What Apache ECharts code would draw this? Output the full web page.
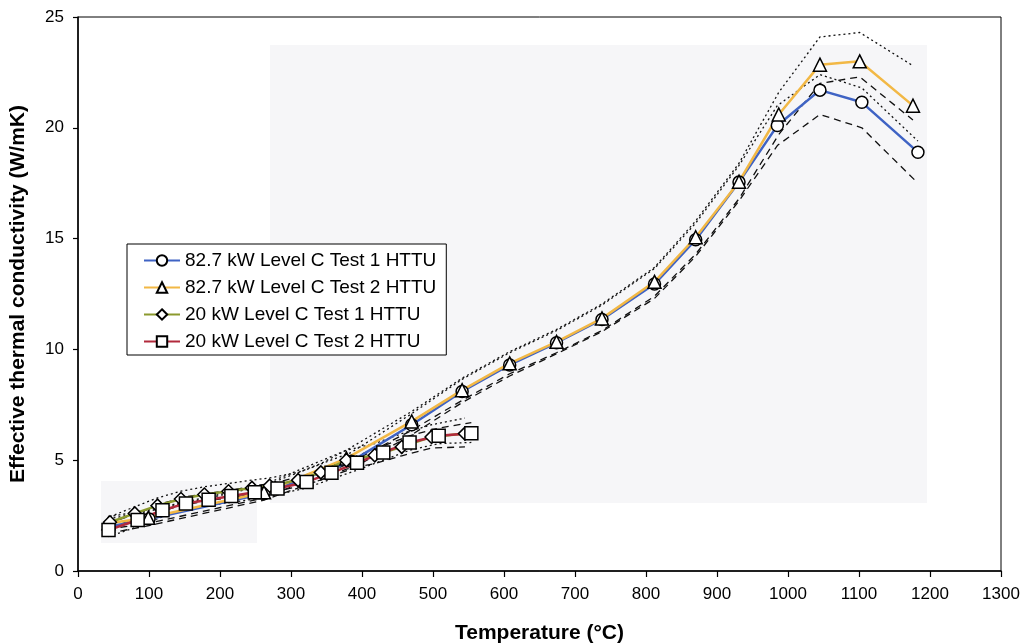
<!DOCTYPE html>
<html>
<head>
<meta charset="utf-8">
<script src="https://cdn.jsdelivr.net/npm/echarts@6/dist/echarts.min.js"></script>
<style>
	html,body{margin:0;padding:0;background:#fff;}
	#charts{width:1027px;height:644px;}
</style>
</head>
<body>
<div id="charts"></div>
<script>
//图例名称
var names = ['82.7 kW Level C Test 1 HTTU','82.7 kW Level C Test 2 HTTU','20 kW Level C Test 1 HTTU','20 kW Level C Test 2 HTTU'];

//82.7 kW Test 1 (圆)
var t1x = [43,100,262,385,470,541,608,674,738,812,870,931,985,1045,1104,1183];
var t1y = [2.0,2.35,3.5,4.95,6.6,8.1,9.3,10.3,11.35,12.95,14.95,17.55,20.1,21.7,21.15,18.9];
var t1up = [2.35,2.7,3.85,5.35,7.1,8.65,9.85,10.85,12.0,13.65,15.7,18.3,21.0,22.4,21.8,19.4];
var t1lo = [1.7,2.05,3.2,4.6,6.15,7.6,8.8,9.8,10.8,12.3,14.2,16.7,19.2,20.6,20.0,17.5];

//82.7 kW Test 2 (三角)
var t2x = [43,99,262,378,470,541,608,674,738,812,870,931,987,1045,1101,1176];
var t2y = [2.15,2.4,3.55,5.08,6.75,8.16,9.37,10.34,11.4,13.05,15.06,17.57,20.6,22.85,23.0,21.0];
var t2up = [2.45,2.75,3.9,5.45,7.2,8.7,9.9,10.9,12.05,13.7,15.8,18.4,21.6,24.1,24.3,22.8];
var t2lo = [1.9,2.15,3.3,4.8,6.35,7.7,8.9,9.85,10.85,12.4,14.3,16.8,19.7,22.0,22.3,20.35];

//20 kW Test 1 (菱形)
var s1x = [45,80,112,145,178,212,245,270,310,342,378,418,456,498,545];
var s1y = [2.2,2.6,2.95,3.25,3.45,3.6,3.75,3.85,4.1,4.45,5.0,5.22,5.6,6.05,6.2];
var s1up = [2.45,2.9,3.3,3.6,3.8,3.95,4.1,4.2,4.45,4.85,5.45,5.75,6.2,6.6,6.9];
var s1lo = [1.95,2.35,2.65,2.95,3.15,3.3,3.45,3.55,3.8,4.1,4.6,4.85,5.2,5.55,5.6];

//20 kW Test 2 (方块)
var s2x = [43,84,119,152,184,216,249,281,322,357,393,430,467,508,554];
var s2y = [1.85,2.3,2.74,3.05,3.22,3.38,3.55,3.72,4.02,4.43,4.88,5.35,5.8,6.1,6.22];
var s2up = [2.15,2.6,3.05,3.35,3.5,3.65,3.85,4.0,4.35,4.75,5.2,5.65,6.1,6.45,6.7];
var s2lo = [1.55,2.0,2.45,2.75,2.95,3.1,3.25,3.45,3.75,4.15,4.55,5.0,5.45,5.75,5.8];

var xTicks = [0,100,200,300,400,500,600,700,800,900,1000,1100,1200,1300];
var yTicks = [0,5,10,15,20,25];

var font = '"Liberation Sans", Arial, sans-serif';

//x,y数组合并为点
function pts(xs, ys){
	var arr = [];
	for(var i=0;i<xs.length;i++){
		arr.push([xs[i], ys[i]]);
	}
	return arr;
}

//主数据线
function mainSeries(name, xs, ys, color, symbol, size){
	return {
		name: name,
		type: 'line',
		data: pts(xs, ys),
		symbol: symbol,
		symbolSize: size,
		showAllSymbol: true,
		lineStyle: {color: color, width: 2.5},
		itemStyle: {color: '#fff', borderColor: '#000', borderWidth: 1.5},
		z: 3
	};
}

//上下限虚线
function boundSeries(xs, ys, dash){
	return {
		type: 'line',
		data: pts(xs, ys),
		symbol: 'none',
		silent: true,
		lineStyle: {color: '#111', width: 1.3, type: dash},
		z: 2
	};
}

function showChart(){
	var charts = echarts.init(document.getElementById('charts'));
	var option = {
		animation: false,
		backgroundColor: '#fff',
		textStyle: {fontFamily: font},
		//扫描底色
		graphic: [
			{type:'rect', z:0, silent:true, shape:{x:270,y:45,width:657,height:458}, style:{fill:'#f6f6f8'}},
			{type:'rect', z:0, silent:true, shape:{x:101,y:481,width:156,height:62}, style:{fill:'#f6f6f8'}}
		],
		grid: {
			left: 78,
			right: 26,
			top: 17,
			bottom: 73,
			containLabel: false,
			outerBoundsMode: 'none',
			show: true,
			backgroundColor: 'transparent',
			borderColor: '#000',
			borderWidth: 1
		},
		legend: {
			data: names,
			orient: 'vertical',
			left: 127,
			top: 244,
			backgroundColor: '#fff',
			borderColor: '#000',
			borderWidth: 1,
			padding: [7, 10, 4, 16],
			itemGap: 8,
			itemWidth: 36,
			itemHeight: 13,
			textStyle: {fontFamily: font, fontSize: 19, color: '#000'}
		},
		xAxis: {
			type: 'value',
			min: xTicks[0],
			max: xTicks[xTicks.length-1],
			interval: 100,
			name: 'Temperature (°C)',
			nameLocation: 'middle',
			nameGap: 52,
			nameTextStyle: {fontFamily: font, fontSize: 21, fontWeight: 'bold', color: '#000'},
			axisLine: {onZero: false, lineStyle: {color: '#000', width: 1.5}},
			axisTick: {length: 6, lineStyle: {color: '#000', width: 1.2}},
			axisLabel: {margin: 15, fontFamily: font, fontSize: 17, color: '#000',
				formatter: function(v){ return String(v); }},
			splitLine: {show: false}
		},
		yAxis: {
			type: 'value',
			min: yTicks[0],
			max: yTicks[yTicks.length-1],
			interval: 5,
			name: 'Effective thermal conductivity (W/mK)',
			nameLocation: 'middle',
			nameGap: 49,
			nameTextStyle: {fontFamily: font, fontSize: 21, fontWeight: 'bold', color: '#000'},
			axisLine: {show: true, lineStyle: {color: '#000', width: 1.5}},
			axisTick: {show: true, length: 5, lineStyle: {color: '#000', width: 1.2}},
			axisLabel: {margin: 14, fontFamily: font, fontSize: 17, color: '#000'},
			splitLine: {show: false}
		},
		series: [
			boundSeries(t1x, t1up, [2, 3]),
			boundSeries(t1x, t1lo, [7, 5]),
			boundSeries(t2x, t2up, [2, 3]),
			boundSeries(t2x, t2lo, [7, 5]),
			boundSeries(s1x, s1up, [2, 3]),
			boundSeries(s1x, s1lo, [7, 5]),
			boundSeries(s2x, s2up, [7, 5]),
			boundSeries(s2x, s2lo, [2, 3]),
			mainSeries(names[0], t1x, t1y, '#3f63c4', 'circle', 12),
			mainSeries(names[1], t2x, t2y, '#f2b845', 'triangle', 13),
			mainSeries(names[2], s1x, s1y, '#8c9a2e', 'diamond', 13),
			mainSeries(names[3], s2x, s2y, '#b22a3c', 'rect', 13)
		]
	};
	charts.setOption(option);
}

showChart();
</script>
</body>
</html>
